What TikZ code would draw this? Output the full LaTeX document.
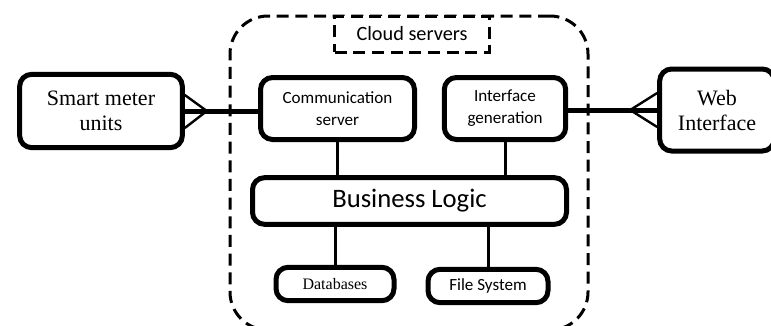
\documentclass[tikz,border=0pt]{standalone}
\usepackage{fontspec}
\setmainfont{Liberation Serif}
\newfontfamily\calibri{Carlito}
\usetikzlibrary{calc,positioning}

\tikzset{
    unit/.style={draw, line width=3.75pt, rounded corners=9pt, align=center, fill=white},
    serifunit/.style={unit, font=\fontsize{16.5}{18.75}\selectfont},
    serverunit/.style={unit, font=\calibri\fontsize{12.8}{16.5}\selectfont},
    cloudline/.style={line width=2.25pt, dash pattern=on 9pt off 5pt},
    link/.style={line width=2.25pt},
    heavy link/.style={line width=3.75pt},
    foot/.style={line width=1.8pt}
}

\begin{document}
\begin{tikzpicture}[x=0.75pt, y=-0.75pt]
    \useasboundingbox (0,0) rectangle (771,325);

    % Cloud area {cloud, title}
    \node [cloudline, draw, rounded corners=28.5pt, minimum width=268.5pt, minimum height=235.5pt] (cloud) at (409,173) {};
    \node [cloudline, draw, fill=white, font=\calibri\fontsize{15.2}{18}\selectfont,
           minimum width=116pt, minimum height=27pt] (title) at (412,34) {Cloud servers};

    % Nodes {smart, web, comm, iface, logic, db, fs}
    \node [serifunit, minimum width=122pt, minimum height=55pt]    (smart) at (101,111)   {Smart meter\\units};
    \node [serifunit, minimum width=86pt, minimum height=61.5pt]   (web)   at (717,110)   {Web\\Interface};
    \node [serverunit, minimum width=115.5pt, minimum height=46.5pt] (comm)  at (337.5,108.5) {Communication\\server};
    \node [serverunit, minimum width=91pt, minimum height=46.5pt]  (iface) at (505,108.5) {Interface\\generation};
    \node [unit, font=\calibri\fontsize{20}{24}\selectfont,
           minimum width=235.5pt, minimum height=35pt]             (logic) at (409.5,201) {Business Logic};
    \node [unit, font=\fontsize{12}{14}\selectfont,
           minimum width=88.5pt, minimum height=25pt]              (db)    at (335,284)   {Databases};
    \node [serverunit, minimum width=90pt, minimum height=25pt]    (fs)    at (488,286)   {File System};

    % Paths
    \draw [heavy link] (smart.east) -- (smart.east -| comm.west);
    \draw [heavy link] (iface.east |- web.west) -- (web.west);
    \draw [link] (comm.south) -- (comm.south |- logic.north);
    \draw [link] (iface.south) -- (iface.south |- logic.north);
    \draw [link] (db.north |- logic.south) -- (db.north);
    \draw [link] (fs.north |- logic.south) -- (fs.north);

    % Crow's feet
    \coordinate (smartfoot) at ($(smart.east)+(22,0)$);
    \coordinate (webfoot)   at ($(web.west)+(-27,0)$);
    \draw [foot] ($(smart.east)+(0,-16)$) -- (smartfoot) -- ($(smart.east)+(0,17)$);
    \draw [foot] ($(web.west)+(0,-17)$) -- (webfoot) -- ($(web.west)+(0,17)$);
\end{tikzpicture}
\end{document}
